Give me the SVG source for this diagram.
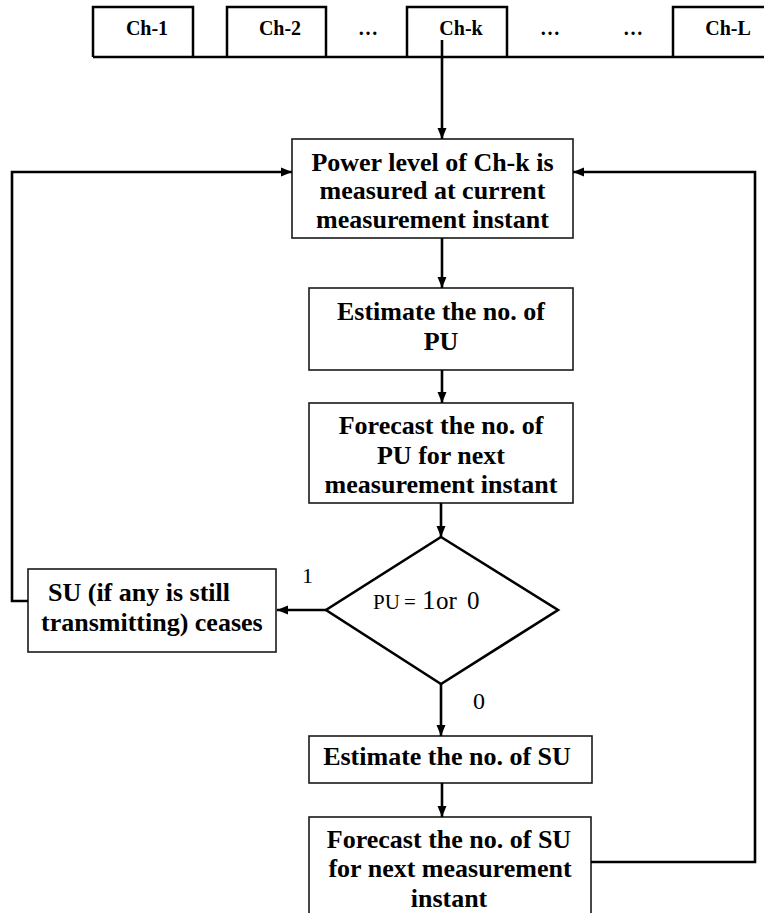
<svg xmlns="http://www.w3.org/2000/svg" width="764" height="913" viewBox="0 0 764 913">
  <style>
    .box { fill: #fff; stroke: #1a1a1a; stroke-width: 1.6; }
    .bar { fill: none; stroke: #000; stroke-width: 2.5; }
    .wire { fill: none; stroke: #000; stroke-width: 2.6; }
    .t { font-family: "Liberation Serif", "Times New Roman", serif; font-weight: bold; font-size: 26px; fill: #000; text-anchor: middle; }
    .t.left { text-anchor: start; }
    .ch { font-family: "Liberation Serif", "Times New Roman", serif; font-weight: bold; font-size: 20px; fill: #000; text-anchor: middle; }
    .r { font-family: "Liberation Serif", "Times New Roman", serif; font-weight: normal; fill: #000; }
  </style>
  <defs>
    <marker id="arrow" markerUnits="userSpaceOnUse" markerWidth="12" markerHeight="10" refX="11" refY="5" orient="auto">
      <path d="M0,0.5 L11,5 L0,9.5 z" fill="#000"/>
    </marker>
  </defs>

  <rect width="764" height="913" fill="#fff"/>

  <!-- channel strip -->
  <g id="channels">
    <path class="bar" d="M93,57 H764"/>
    <g id="ch-1">
      <path class="bar" d="M93,57 V7 H193 V57"/>
      <text class="ch" x="147" y="35">Ch-1</text>
    </g>
    <g id="ch-2">
      <path class="bar" d="M227,57 V7 H326 V57"/>
      <text class="ch" x="280" y="35">Ch-2</text>
    </g>
    <text class="ch" x="368" y="35">…</text>
    <g id="ch-k">
      <path class="bar" d="M407,57 V7 H507 V57"/>
      <text class="ch" x="461" y="35">Ch-k</text>
    </g>
    <text class="ch" x="550" y="35">…</text>
    <text class="ch" x="633" y="35">…</text>
    <g id="ch-L">
      <path class="bar" d="M673,57 V7 H766"/>
      <text class="ch" x="728" y="35">Ch-L</text>
    </g>
  </g>

  <!-- process nodes -->
  <g id="measure-power">
    <rect class="box" x="292" y="139" width="281" height="99"/>
    <text class="t" x="432.5" y="171">Power level of Ch-k is</text>
    <text class="t" x="432.5" y="199">measured at current</text>
    <text class="t" x="432.5" y="228">measurement instant</text>
  </g>

  <g id="estimate-pu">
    <rect class="box" x="309" y="288" width="264" height="82"/>
    <text class="t" x="441" y="320">Estimate the no. of</text>
    <text class="t" x="441" y="350">PU</text>
  </g>

  <g id="forecast-pu">
    <rect class="box" x="309" y="403" width="264" height="100"/>
    <text class="t" x="441" y="434">Forecast the no. of</text>
    <text class="t" x="441" y="464">PU for next</text>
    <text class="t" x="441" y="493">measurement instant</text>
  </g>

  <g id="decision">
    <path class="wire" d="M441,537 L558,610 L441,684 L326,610 z" fill="#fff"/>
    <text class="r" y="609">
      <tspan x="373" font-size="21">PU</tspan>
      <tspan x="404" font-size="21">=</tspan>
      <tspan x="422" font-size="27">1</tspan>
      <tspan x="436" font-size="25">or</tspan>
      <tspan x="467" font-size="25">0</tspan>
    </text>
  </g>

  <g id="su-ceases">
    <rect class="box" x="28" y="569" width="248" height="83"/>
    <text class="t left" x="48" y="601">SU (if any is still</text>
    <text class="t left" x="41" y="631">transmitting) ceases</text>
  </g>

  <g id="estimate-su">
    <rect class="box" x="309" y="736" width="283" height="47"/>
    <text class="t" x="447" y="765">Estimate the no. of SU</text>
  </g>

  <g id="forecast-su">
    <rect class="box" x="309" y="817" width="282" height="110"/>
    <text class="t" x="449" y="848">Forecast the no. of SU</text>
    <text class="t" x="450" y="877">for next measurement</text>
    <text class="t" x="449" y="907">instant</text>
  </g>

  <!-- connectors -->
  <g id="connectors">
    <path class="wire" d="M442,40 V139" marker-end="url(#arrow)"/>
    <path class="wire" d="M442,238 V288" marker-end="url(#arrow)"/>
    <path class="wire" d="M442,370 V403" marker-end="url(#arrow)"/>
    <path class="wire" d="M441,503 V537" marker-end="url(#arrow)"/>
    <path class="wire" d="M326,610 H277" marker-end="url(#arrow)"/>
    <path class="wire" d="M441,684 V736" marker-end="url(#arrow)"/>
    <path class="wire" d="M442,783 V817" marker-end="url(#arrow)"/>
    <path class="wire" d="M28,601 H12 V172 H292" marker-end="url(#arrow)"/>
    <path class="wire" d="M591,862 H755 V172 H573" marker-end="url(#arrow)"/>
    <text class="r" x="302" y="583" font-size="22">1</text>
    <text class="r" x="473" y="709" font-size="24">0</text>
  </g>
</svg>
